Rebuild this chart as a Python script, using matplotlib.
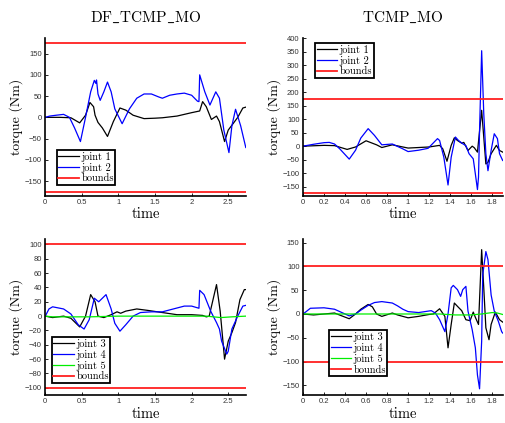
import matplotlib
matplotlib.use("Agg")
import matplotlib.pyplot as plt

# ---- DF_TCMP_MO, joints 1-2 ----
df12_j1_t = [0, 0.2, 0.35, 0.47, 0.55, 0.61, 0.66, 0.68, 0.72, 0.78, 0.85, 0.93, 1.02, 1.1, 1.2,
             1.35, 1.5, 1.6, 1.8, 2.0, 2.11, 2.15, 2.2, 2.27, 2.34, 2.38, 2.45, 2.5, 2.57, 2.63,
             2.7, 2.74]
df12_j1_v = [0, 0, -1, -13, 5, 35, 25, 5, -12, -25, -45, -10, 22, 17, 5,
             -3, -2, -1, 3, 11, 15, 37, 25, -5, 3, -10, -57, -30, -14, 0,
             22, 24]
df12_j2_t = [0, 0.06, 0.15, 0.25, 0.33, 0.4, 0.48, 0.55, 0.62, 0.67, 0.69, 0.7, 0.72, 0.75, 0.8,
             0.85, 0.9, 0.95, 1.05, 1.15, 1.25, 1.35, 1.45, 1.55, 1.6, 1.7, 1.8, 1.9, 2.0, 2.08,
             2.1, 2.11, 2.18, 2.25, 2.33, 2.38, 2.44, 2.51, 2.55, 2.6, 2.67, 2.74]
df12_j2_v = [0, 3, 5, 7, 0, -25, -57, 0, 60, 87, 80, 88, 55, 40, 60,
             83, 60, 20, -15, 20, 45, 55, 55, 48, 45, 52, 55, 57, 52, 38,
             37, 100, 60, 29, 60, 45, -30, -83, -20, 19, -20, -71]

# ---- TCMP_MO, joints 1-2 ----
tc12_j1_t = [0, 0.2, 0.3, 0.42, 0.5, 0.6, 0.7, 0.75, 0.85, 0.95, 1.0, 1.1, 1.2, 1.3, 1.33,
             1.37, 1.41, 1.44, 1.47, 1.51, 1.53, 1.57, 1.61, 1.63, 1.66, 1.70, 1.74, 1.76, 1.79,
             1.84, 1.87, 1.9]
tc12_j1_v = [0, 3, 2, -12, -3, 20, 5, -5, 5, -3, -7, -5, -3, 3, -10,
             -56, 3, 31, 21, 11, 14, -16, 0, -6, -22, 133, -66, -60, -28,
             3, -16, -22]
tc12_j2_t = [0, 0.1, 0.2, 0.25, 0.3, 0.35, 0.44, 0.5, 0.55, 0.62, 0.68, 0.75, 0.85, 0.95, 1.0,
             1.1, 1.19, 1.23, 1.28, 1.30, 1.34, 1.38, 1.41, 1.45, 1.48, 1.52, 1.55, 1.58, 1.62,
             1.64, 1.66, 1.67, 1.68, 1.70, 1.72, 1.74, 1.76, 1.79, 1.82, 1.85, 1.87, 1.9]
tc12_j2_v = [0, 7, 13, 14, 8, -10, -48, -15, 30, 65, 40, 5, 8, -10, -20,
             -15, -8, 8, 28, 21, -41, -144, -41, 34, 21, 9, 2, -28, -47,
             -103, -161, -115, 58, 354, 121, -28, -91, -16, 46, 28, -28, -53]

# ---- DF_TCMP_MO, joints 3-5 ----
df35_j3_t = [0, 0.1, 0.25, 0.35, 0.47, 0.55, 0.62, 0.68, 0.72, 0.8, 0.9, 0.98, 1.03, 1.1, 1.25,
             1.4, 1.6, 1.8, 2.0, 2.15, 2.2, 2.24, 2.34, 2.39, 2.45, 2.5, 2.55, 2.6, 2.66, 2.72,
             2.74]
df35_j3_v = [0, -2, 0, -3, -15, 0, 30, 20, 0, -2, 2, 6, 4, 7, 10,
             8, 5, 2, 2, 1, -1, 0, 44, 7, -60, -35, -23, -9, 23, 37,
             37]
df35_j4_t = [0, 0.05, 0.1, 0.25, 0.35, 0.45, 0.53, 0.6, 0.67, 0.73, 0.78, 0.83, 0.9, 0.95, 1.02,
             1.1, 1.2, 1.3, 1.45, 1.6, 1.75, 1.9, 2.0, 2.1, 2.11, 2.17, 2.26, 2.34, 2.38, 2.41,
             2.48, 2.5, 2.55, 2.63, 2.7, 2.74]
df35_j4_v = [0, 10, 13, 10, 3, -12, -18, -5, 25, 20, 25, 30, 10, -10, -21,
             -12, 0, 5, 6, 6, 10, 14, 14, 11, 36, 30, 7, -9, -18, -35,
             -53, -49, -18, 0, 14, 15]
df35_j5_t = [0, 0.1, 0.3, 0.6, 1.0, 1.5, 2.0, 2.2, 2.4, 2.55, 2.74]
df35_j5_v = [0, -1, -1, -1, 0, 0, 0, 0, -2, -1, 0]

# ---- TCMP_MO, joints 3-5 ----
tc35_j3_t = [0, 0.1, 0.2, 0.3, 0.44, 0.5, 0.55, 0.62, 0.66, 0.7, 0.75, 0.85, 0.9, 1.0, 1.1,
             1.2, 1.24, 1.30, 1.35, 1.38, 1.41, 1.44, 1.47, 1.51, 1.55, 1.59, 1.62, 1.64, 1.67,
             1.70, 1.72, 1.74, 1.77, 1.79, 1.83, 1.87, 1.9]
tc35_j3_v = [0, -2, 0, 2, -10, 0, 10, 20, 15, 0, -5, 2, -2, -8, -5,
             -1, 0, 11, -5, -71, -22, 23, 16, 7, -12, -14, 4, -7, -22,
             135, 55, -29, -54, -22, 4, -12, -17]
tc35_j4_t = [0, 0.03, 0.07, 0.2, 0.3, 0.35, 0.44, 0.5, 0.55, 0.62, 0.68, 0.75, 0.85, 0.9, 0.95,
             1.0, 1.1, 1.22, 1.26, 1.30, 1.35, 1.38, 1.41, 1.43, 1.47, 1.5, 1.52, 1.55, 1.57,
             1.61, 1.64, 1.66, 1.68, 1.70, 1.71, 1.74, 1.76, 1.79, 1.82, 1.86, 1.89, 1.9]
tc35_j4_v = [0, 5, 12, 13, 10, 5, -4, 0, 8, 18, 24, 26, 23, 17, 10,
             5, 3, 7, 2, -12, -37, 0, 55, 60, 51, 37, 51, 58, 6,
             -33, -71, -128, -157, -57, 82, 131, 114, 40, 6, -16, -37, -40]
tc35_j5_t = [0, 0.5, 1.0, 1.3, 1.45, 1.6, 1.7, 1.8, 1.85, 1.9]
tc35_j5_v = [0, 0, 0, 0, -2, -2, 0, 3, 2, -1]

bounds_12 = 175
bounds_35 = 100

SERIF = "cmr10"
TICKFONT = "Liberation Sans"

plt.rcParams["mathtext.fontset"] = "cm"


def draw_panel(ax, series, bound, xlim, ylim, xticks, yticks, legend_anchor, legend_loc):
    for t, v, color, label in series:
        ax.plot(t, v, color=color, lw=0.9, label=label)
    ax.axhline(bound, color="#ff2020", lw=1.3, label="bounds")
    ax.axhline(-bound, color="#ff2020", lw=1.3)

    ax.set_xlim(*xlim)
    ax.set_ylim(*ylim)
    ax.set_xticks(xticks)
    ax.set_yticks(yticks)
    ax.set_xticklabels([f"{x:g}" for x in xticks])
    ax.set_yticklabels([f"{y:g}".replace("-", "\u2212") for y in yticks])
    for lab in ax.get_xticklabels() + ax.get_yticklabels():
        lab.set_fontfamily(TICKFONT)
        lab.set_fontsize(5.5)
        lab.set_color("#333333")
    ax.tick_params(direction="in", length=2.5, width=0.6, pad=2.5)

    for side in ("top", "right"):
        ax.spines[side].set_visible(False)
    for side in ("left", "bottom"):
        ax.spines[side].set_linewidth(1.2)

    ax.set_xlabel("time", fontfamily=SERIF, fontsize=10.5, labelpad=1)
    ax.set_ylabel("torque (Nm)", fontfamily=SERIF, fontsize=10, labelpad=1)

    leg = ax.legend(loc=legend_loc, bbox_to_anchor=legend_anchor, fancybox=False,
                    framealpha=1, edgecolor="black", borderpad=0.15, labelspacing=0.1,
                    handlelength=2.0, handletextpad=0.2, borderaxespad=0,
                    prop={"family": SERIF, "size": 7.5})
    leg.get_frame().set_linewidth(1.3)


def main() -> None:
    fig = plt.figure(figsize=(5.05, 4.23), dpi=100)

    ax1 = fig.add_axes([0.0897, 0.5378, 0.397, 0.3716])
    ax2 = fig.add_axes([0.600, 0.5378, 0.3954, 0.3716])
    ax3 = fig.add_axes([0.0897, 0.0662, 0.397, 0.3695])
    ax4 = fig.add_axes([0.600, 0.0662, 0.3954, 0.3695])

    x_df = [0, 0.5, 1, 1.5, 2, 2.5]
    x_tc = [0, 0.2, 0.4, 0.6, 0.8, 1, 1.2, 1.4, 1.6, 1.8]

    draw_panel(ax1,
               [(df12_j1_t, df12_j1_v, "black", "joint 1"),
                (df12_j2_t, df12_j2_v, "#0000ff", "joint 2")],
               bounds_12, (0, 2.74), (-184, 186), x_df, list(range(-150, 151, 50)),
               (0.058, 0.067), "lower left")
    draw_panel(ax2,
               [(tc12_j1_t, tc12_j1_v, "black", "joint 1"),
                (tc12_j2_t, tc12_j2_v, "#0000ff", "joint 2")],
               bounds_12, (0, 1.9), (-183, 400), x_tc, list(range(-150, 401, 50)),
               (0.06, 0.97), "upper left")
    draw_panel(ax3,
               [(df35_j3_t, df35_j3_v, "black", "joint 3"),
                (df35_j4_t, df35_j4_v, "#0000ff", "joint 4"),
                (df35_j5_t, df35_j5_v, "#00ee00", "joint 5")],
               bounds_35, (0, 2.74), (-110, 108), x_df, list(range(-100, 101, 20)),
               (0.033, 0.077), "lower left")
    draw_panel(ax4,
               [(tc35_j3_t, tc35_j3_v, "black", "joint 3"),
                (tc35_j4_t, tc35_j4_v, "#0000ff", "joint 4"),
                (tc35_j5_t, tc35_j5_v, "#00ee00", "joint 5")],
               bounds_35, (0, 1.9), (-170, 158), x_tc, list(range(-150, 151, 50)),
               (0.13, 0.12), "lower left")

    # cmr10 has no underscore glyph, so the titles go through mathtext (cm fontset)
    ax1.set_title(r"$\mathrm{DF\_TCMP\_MO}$", fontsize=11, pad=12)
    ax2.set_title(r"$\mathrm{TCMP\_MO}$", fontsize=11, pad=12)

    fig.savefig("out.png", dpi=100)


if __name__ == "__main__":
    main()
